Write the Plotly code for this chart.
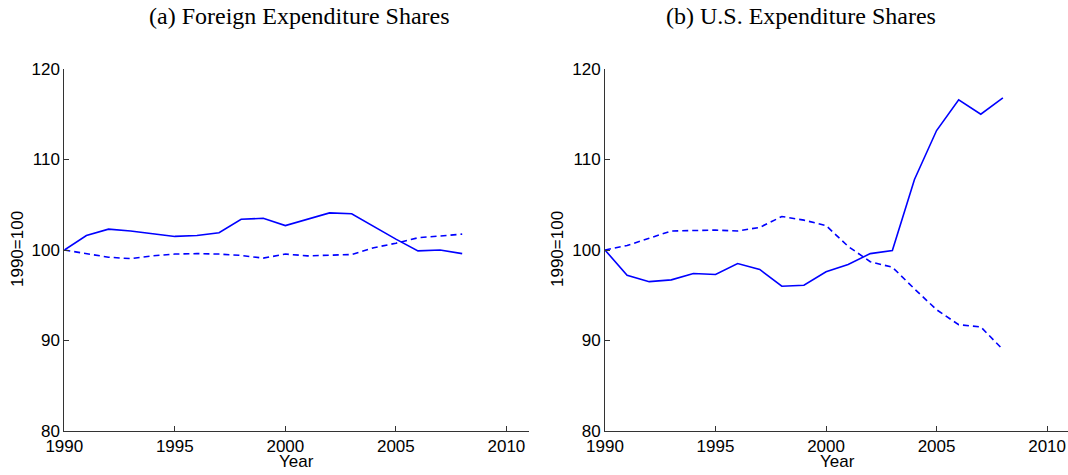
import plotly.graph_objects as go

# data (index, 1990=100)
years = list(range(1990, 2009))

foreign_solid = [100.0, 101.6, 102.3, 102.1, 101.8, 101.5, 101.6, 101.9, 103.4, 103.5,
                 102.7, 103.4, 104.1, 104.0, 102.6, 101.2, 99.9, 100.0, 99.6]
foreign_dashed = [100.0, 99.6, 99.2, 99.05, 99.35, 99.55, 99.6, 99.55, 99.4, 99.1,
                  99.55, 99.35, 99.4, 99.5, 100.25, 100.75, 101.35, 101.55, 101.75]

us_solid = [100.0, 97.2, 96.5, 96.7, 97.4, 97.3, 98.5, 97.85, 96.0, 96.1,
            97.6, 98.4, 99.6, 99.95, 107.8, 113.2, 116.6, 115.0, 116.8]
us_dashed = [100.0, 100.5, 101.3, 102.1, 102.15, 102.2, 102.1, 102.5, 103.7, 103.3,
             102.7, 100.4, 98.7, 98.1, 95.7, 93.4, 91.75, 91.5, 89.0]

titles = ["(a) Foreign Expenditure Shares", "(b) U.S. Expenditure Shares"]
x_ticks = [1990, 1995, 2000, 2005, 2010]
y_ticks = [80, 90, 100, 110, 120]

W, H = 1068, 475
TOP, BOT = 68.5, 43.5
BLUE = "#0000ff"

fig = go.Figure()

panels = [(foreign_solid, foreign_dashed, "x", "y"), (us_solid, us_dashed, "x2", "y2")]
for solid, dashed, xa, ya in panels:
    fig.add_trace(go.Scatter(x=years, y=solid, mode="lines", xaxis=xa, yaxis=ya,
                             line=dict(color=BLUE, width=1.6)))
    fig.add_trace(go.Scatter(x=years, y=dashed, mode="lines", xaxis=xa, yaxis=ya,
                             line=dict(color=BLUE, width=1.6, dash="6px,4px")))

tick_font = dict(family="Liberation Sans, Arial", size=17, color="#000")
axis_common = dict(showgrid=False, zeroline=False, showline=True, linecolor="#333",
                   linewidth=1, ticks="inside", ticklen=5, tickcolor="#333",
                   tickfont=tick_font, automargin=False)

# pixel positions of the two plot areas
left = (64.3, 528.5)
right = (605.0, 1068.0)
px_per_year = (left[1] - left[0]) / 21.0
right_end = 1990 + (right[1] - right[0]) / px_per_year

fig.update_layout(
    template="none",
    width=W, height=H,
    margin=dict(l=0, r=0, t=TOP, b=BOT, autoexpand=False),
    paper_bgcolor="white", plot_bgcolor="white",
    showlegend=False,
    xaxis=dict(domain=[left[0] / W, left[1] / W], range=[1990, 2011],
               tickvals=x_ticks, anchor="y", **axis_common),
    yaxis=dict(domain=[0, 1], range=[80, 120], tickvals=y_ticks, anchor="x", **axis_common),
    xaxis2=dict(domain=[right[0] / W, right[1] / W], range=[1990, right_end],
                tickvals=x_ticks, anchor="y2", **axis_common),
    yaxis2=dict(domain=[0, 1], range=[80, 120], tickvals=y_ticks, anchor="x2", **axis_common),
)


def py(pix):
    # pixel row -> paper y (paper spans the plot area inside the margins)
    return (H - BOT - pix) / (H - TOP - BOT)


title_font = dict(family="Liberation Serif, Times New Roman", size=24, color="#000")
label_font = dict(family="Liberation Sans, Arial", size=17, color="#000")

ann = []
for cx, t in zip([299, 801], titles):
    ann.append(dict(text=t, x=cx / W, y=py(15), xref="paper", yref="paper",
                    xanchor="center", yanchor="middle", showarrow=False, font=title_font))
for cx in [(left[0] + left[1]) / 2, 837]:
    ann.append(dict(text="Year", x=cx / W, y=py(462), xref="paper", yref="paper",
                    xanchor="center", yanchor="middle", showarrow=False, font=label_font))
for cx in [17, 557]:
    ann.append(dict(text="1990=100", x=cx / W, y=py(249), xref="paper", yref="paper",
                    xanchor="center", yanchor="middle", showarrow=False, textangle=-90,
                    font=label_font))
fig.update_layout(annotations=ann)

# drop the default 8px page margin so the figure sits at the window's corner
fig.write_html("out.html", config={"displayModeBar": False},
               post_script="document.body.style.margin='0';")
